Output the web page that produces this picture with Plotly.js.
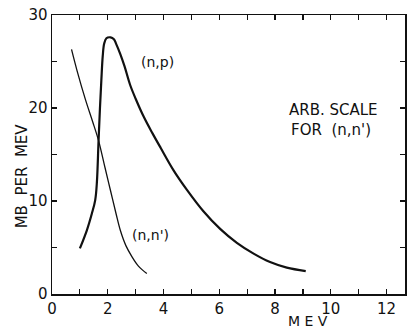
<!DOCTYPE html>
<html>
<head>
<meta charset="utf-8">
<script src="https://cdn.plot.ly/plotly-3.0.1.min.js"></script>
<style>html,body{margin:0;padding:0;background:#fff;}#chart{width:410px;height:330px;}</style>
</head>
<body>
<div id="chart"></div>
<script>
// (n,p) spectrum, MB per MeV
const npEnergy = [1.0, 1.25, 1.43, 1.55, 1.61, 1.67, 1.72, 1.77, 1.82, 1.87, 1.95, 2.1, 2.22, 2.3, 2.45, 2.6, 2.8, 3.0, 3.3, 3.6, 3.9, 4.36, 4.84, 5.43, 6.03, 6.63, 7.23, 7.82, 8.42, 9.1];
const npValue  = [4.9, 6.85, 8.65, 10.1, 12.0, 16.5, 20.0, 23.0, 25.6, 26.9, 27.5, 27.6, 27.4, 26.9, 25.8, 24.5, 22.5, 21.0, 19.0, 17.3, 15.7, 13.3, 11.2, 8.9, 7.0, 5.5, 4.34, 3.43, 2.83, 2.46];
// (n,n') spectrum, arbitrary scale
const nnEnergy = [0.7, 0.9, 1.2, 1.45, 1.67, 1.9, 2.1, 2.3, 2.45, 2.65, 2.87, 3.1, 3.4];
const nnValue  = [26.3, 24.0, 20.9, 18.6, 16.5, 13.6, 11.1, 8.6, 6.85, 5.2, 4.0, 3.0, 2.2];
// tick labels
const xTickVals = [0,1,2,3,4,5,6,7,8,9,10,11,12];
const xTickText = ['0','','2','','4','','6','','8','','10','','12'];
const yTickVals = [0,5,10,15,20,25,30];
const yTickText = ['0','','10','','20','','30'];

const FONT = 'DejaVu Sans, sans-serif';
const sp = '\u00A0';

const traces = [
  {x: npEnergy, y: npValue, mode: 'lines', line: {color: '#111', width: 2.2, shape: 'spline', smoothing: 1.0}, hoverinfo: 'skip'},
  {x: nnEnergy, y: nnValue, mode: 'lines', line: {color: '#111', width: 1.3, shape: 'spline', smoothing: 1.0}, hoverinfo: 'skip'}
];

const axisCommon = {
  showgrid: false, zeroline: false, showline: true, linecolor: '#111', linewidth: 1.5,
  mirror: 'ticks', ticks: 'inside', ticklen: 5, tickwidth: 1.2, tickcolor: '#111',
  tickmode: 'array', tickfont: {family: FONT, size: 15, color: '#111'}
};

const layout = {
  width: 410, height: 330,
  margin: {l: 52, r: 5, t: 15, b: 36},
  paper_bgcolor: '#fff', plot_bgcolor: '#fff',
  showlegend: false,
  xaxis: Object.assign({}, axisCommon, {range: [0, 12.66], tickvals: xTickVals, ticktext: xTickText}),
  yaxis: Object.assign({}, axisCommon, {range: [0, 30], tickvals: yTickVals, ticktext: yTickText}),
  annotations: [
    {text: '(n,p)', x: 3.77, y: 25.0, xref: 'x', yref: 'y', showarrow: false, font: {family: FONT, size: 14, color: '#111'}},
    {text: "(n,n')", x: 3.52, y: 6.3, xref: 'x', yref: 'y', showarrow: false, font: {family: FONT, size: 14, color: '#111'}},
    {text: 'ARB.' + sp + 'SCALE', x: 10.1, y: 19.8, xref: 'x', yref: 'y', showarrow: false, font: {family: FONT, size: 15, color: '#111'}},
    {text: "FOR" + sp + sp + "(n,n')", x: 10.0, y: 17.6, xref: 'x', yref: 'y', showarrow: false, font: {family: FONT, size: 15, color: '#111'}},
    {text: 'MB' + sp + sp + 'PER' + sp + sp + 'MEV', x: -0.084, y: 0.423, xref: 'paper', yref: 'paper', xanchor: 'center', yanchor: 'middle', textangle: -90, showarrow: false, font: {family: FONT, size: 15, color: '#111'}},
    {text: 'M' + sp + 'E' + sp + 'V', x: 9.17, y: -0.097, xref: 'x', yref: 'paper', xanchor: 'center', yanchor: 'middle', showarrow: false, font: {family: FONT, size: 14, color: '#111'}}
  ]
};

Plotly.newPlot('chart', traces, layout, {staticPlot: true, displayModeBar: false});
</script>
</body>
</html>
